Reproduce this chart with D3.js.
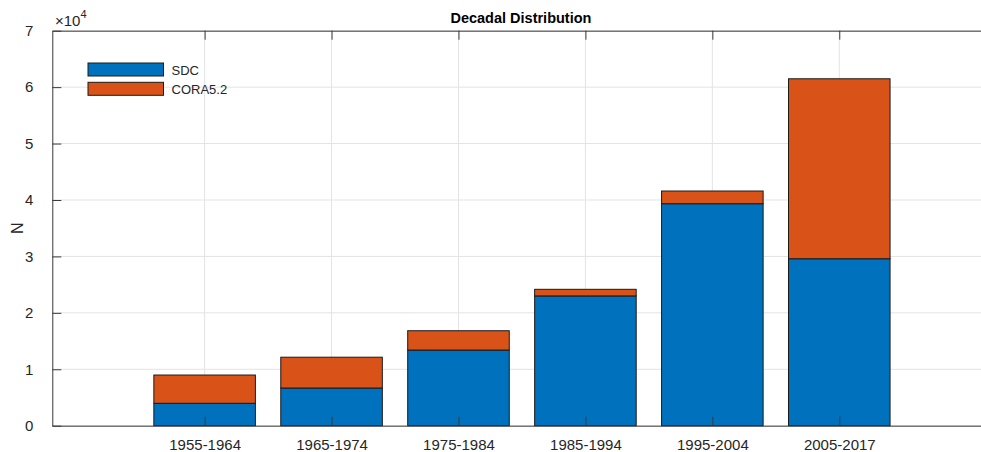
<!DOCTYPE html>
<html>
<head>
<meta charset="utf-8">
<script src="https://cdn.jsdelivr.net/npm/d3@7"></script>
<style>
  html, body { margin: 0; padding: 0; background: #fff; }
  svg { display: block; font-family: "Liberation Sans", Arial, Helvetica, sans-serif; }
</style>
</head>
<body>
<svg id="chart" width="981" height="452"></svg>
<script>
// Decade bins and counts per data source
const categories = ["1955-1964", "1965-1974", "1975-1984", "1985-1994", "1995-2004", "2005-2017"];
const sdcCounts  = [3970, 6680, 13410, 23000, 39340, 29590];
const coraCounts = [5010, 5460, 3420, 1170, 2250, 31890];
const seriesNames = ["SDC", "CORA5.2"];
const seriesColors = ["#0072BD", "#D95319"];
const yTickValues = [0, 10000, 20000, 30000, 40000, 50000, 60000, 70000];

(function draw() {
  const svg = d3.select("#chart");
  const plotLeft = 52.3, plotTop = 30.7, plotBottom = 425.7;
  const plotRight = 991.6;

  const x = d3.scaleLinear().domain([-0.2, 7.2]).range([plotLeft, plotRight]);
  const y = d3.scaleLinear().domain([0, 70000]).range([plotBottom, plotTop]);
  const barW = x(0.8) - x(0);

  const rows = categories.map((c, i) => ({ cat: c, i: i + 1, SDC: sdcCounts[i], "CORA5.2": coraCounts[i] }));
  const stacked = d3.stack().keys(seriesNames)(rows);

  const gridColor = "#e3e3e3";
  const axisColor = "#3a3a3a";
  const textColor = "#262626";

  // grid lines
  const grid = svg.append("g");
  grid.selectAll("line.h").data(yTickValues).join("line").attr("class", "h")
    .attr("x1", plotLeft).attr("x2", plotRight)
    .attr("y1", d => y(d)).attr("y2", d => y(d))
    .attr("stroke", gridColor).attr("stroke-width", 1);
  grid.selectAll("line.v").data(rows).join("line").attr("class", "v")
    .attr("x1", d => x(d.i)).attr("x2", d => x(d.i))
    .attr("y1", plotTop).attr("y2", plotBottom)
    .attr("stroke", gridColor).attr("stroke-width", 1);

  // stacked bars
  svg.append("g").selectAll("g").data(stacked).join("g")
    .attr("fill", (d, k) => seriesColors[k])
    .selectAll("rect").data(d => d).join("rect")
    .attr("x", d => x(d.data.i) - barW / 2)
    .attr("width", barW)
    .attr("y", d => y(d[1]))
    .attr("height", d => y(d[0]) - y(d[1]))
    .attr("stroke", "#1a1a1a").attr("stroke-width", 1);

  // axes (ticks pointing inward)
  const xAxis = d3.axisBottom(x).tickValues(rows.map(r => r.i))
    .tickFormat(v => categories[v - 1]).tickSizeInner(-9).tickSizeOuter(0).tickPadding(14);
  const gx = svg.append("g").attr("transform", `translate(0,${plotBottom})`).call(xAxis);
  gx.select(".domain").attr("stroke", axisColor);
  gx.selectAll(".tick line").attr("stroke", axisColor);
  gx.selectAll(".tick text").attr("fill", textColor).attr("font-size", 15)
    .attr("font-family", "Liberation Sans, Arial, sans-serif");

  const xTopAxis = d3.axisTop(x).tickValues(rows.map(r => r.i)).tickFormat("").tickSizeInner(-9).tickSizeOuter(0);
  const gxt = svg.append("g").attr("transform", `translate(0,${plotTop})`).call(xTopAxis);
  gxt.select(".domain").attr("stroke", axisColor);
  gxt.selectAll(".tick line").attr("stroke", axisColor);

  const yAxis = d3.axisLeft(y).tickValues(yTickValues).tickFormat(v => v / 10000)
    .tickSizeInner(-9).tickSizeOuter(0).tickPadding(19);
  const gy = svg.append("g").attr("transform", `translate(${plotLeft},0)`).call(yAxis);
  gy.select(".domain").attr("stroke", axisColor);
  gy.selectAll(".tick line").attr("stroke", axisColor);
  gy.selectAll(".tick text").attr("fill", textColor).attr("font-size", 15)
    .attr("font-family", "Liberation Sans, Arial, sans-serif");

  // exponent label
  const expo = svg.append("text").attr("x", 55).attr("y", 26)
    .attr("font-size", 15).attr("fill", textColor);
  expo.append("tspan").text("×10");
  expo.append("tspan").attr("dy", -8).attr("font-size", 11).text("4");

  // title
  svg.append("text").attr("x", (plotLeft + plotRight) / 2 - 1).attr("y", 23)
    .attr("text-anchor", "middle").attr("font-weight", "bold").attr("font-size", 14.5)
    .attr("fill", "#000").text("Decadal Distribution");

  // y label
  svg.append("text").attr("transform", `translate(23,${(plotTop + plotBottom) / 2}) rotate(-90)`)
    .attr("text-anchor", "middle").attr("font-size", 16).attr("fill", textColor).text("N");

  // legend
  const lg = svg.append("g").selectAll("g").data(seriesNames).join("g")
    .attr("transform", (d, k) => `translate(88,${63 + k * 19.3})`);
  lg.append("rect").attr("width", 75.5).attr("height", 13)
    .attr("fill", (d, k) => seriesColors[k]).attr("stroke", "#1a1a1a").attr("stroke-width", 1);
  lg.append("text").attr("x", 83.5).attr("y", 11.5).attr("font-size", 13)
    .attr("fill", textColor).text(d => d);
})();
</script>
</body>
</html>
